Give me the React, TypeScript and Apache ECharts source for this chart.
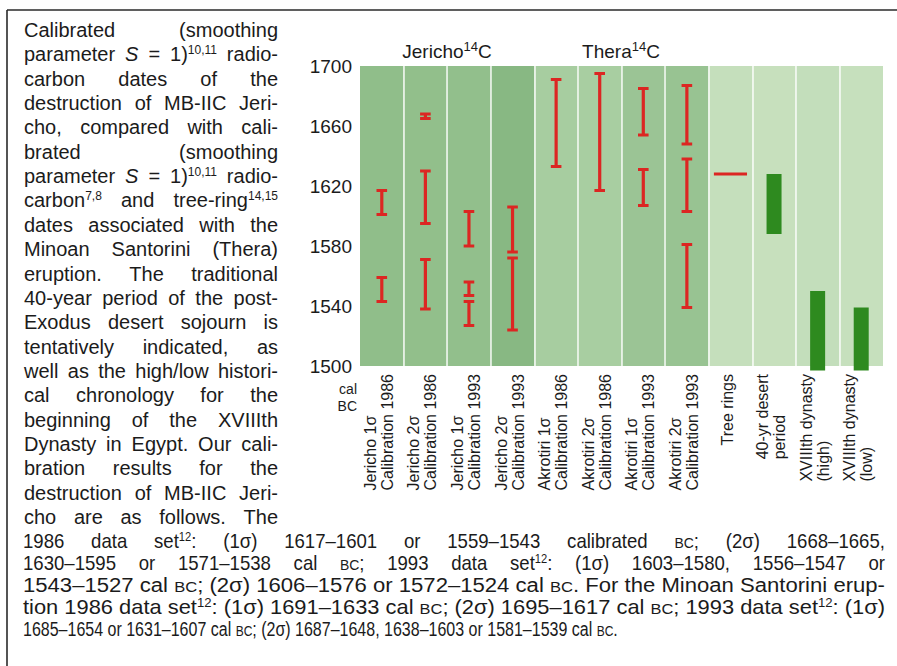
import React, { useEffect, useRef } from "react";
import * as echarts from "echarts";

// ---------- axis settings ----------
const YEAR_MIN = 1500;
const YEAR_MAX = 1700;
const YEAR_STEP = 40;

// ---------- categories (two label lines each) ----------
const categories = [
  ["Jericho 1σ", "Calibration 1986"],
  ["Jericho 2σ", "Calibration 1986"],
  ["Jericho 1σ", "Calibration 1993"],
  ["Jericho 2σ", "Calibration 1993"],
  ["Akrotiri 1σ", "Calibration 1986"],
  ["Akrotiri 2σ", "Calibration 1986"],
  ["Akrotiri 1σ", "Calibration 1993"],
  ["Akrotiri 2σ", "Calibration 1993"],
  ["Tree rings"],
  ["40-yr desert", "period"],
  ["XVIIIth dynasty", "(high)"],
  ["XVIIIth dynasty", "(low)"],
];

// ---------- calibrated ranges (cal BC, older → younger) ----------
const jericho1s1986 = [[1617, 1601], [1559, 1543]];
const jericho2s1986 = [[1668, 1665], [1630, 1595], [1571, 1538]];
const jericho1s1993 = [[1603, 1580], [1556, 1547], [1543, 1527]];
const jericho2s1993 = [[1606, 1576], [1572, 1524]];
const akrotiri1s1986 = [[1691, 1633]];
const akrotiri2s1986 = [[1695, 1617]];
const akrotiri1s1993 = [[1685, 1654], [1631, 1607]];
const akrotiri2s1993 = [[1687, 1648], [1638, 1603], [1581, 1539]];
const calibrationColumns = [
  jericho1s1986, jericho2s1986, jericho1s1993, jericho2s1993,
  akrotiri1s1986, akrotiri2s1986, akrotiri1s1993, akrotiri2s1993,
];

const treeRingYear = 1628;
const desertPeriod = [1628, 1588];
const dynastyHigh = [1550, 1497];
const dynastyLow = [1539, 1497];

// ---------- group headings ----------
const groupHeadings = [
  { name: "Jericho", sup: "14", tail: "C" },
  { name: "Thera", sup: "14", tail: "C" },
];
const yUnitLines = ["cal", "BC"];

// ---------- caption ----------
const captionColumnLines = [
  "Calibrated (smoothing",
  "parameter _[S] = 1)^[10,11] radio-",
  "carbon dates of the",
  "destruction of MB-IIC Jeri-",
  "cho, compared with cali-",
  "brated (smoothing",
  "parameter _[S] = 1)^[10,11] radio-",
  "carbon^[7,8] and tree-ring^[14,15]",
  "dates associated with the",
  "Minoan Santorini (Thera)",
  "eruption. The traditional",
  "40-year period of the post-",
  "Exodus desert sojourn is",
  "tentatively indicated, as",
  "well as the high/low histori-",
  "cal chronology for the",
  "beginning of the XVIIIth",
  "Dynasty in Egypt. Our cali-",
  "bration results for the",
  "destruction of MB-IIC Jeri-",
  "cho are as follows. The",
];
const captionWideLines = [
  "1986 data set^[12]: (1σ) 1617–1601 or 1559–1543 calibrated ~[BC]; (2σ) 1668–1665,",
  "1630–1595 or 1571–1538 cal ~[BC]; 1993 data set^[12]: (1σ) 1603–1580, 1556–1547 or",
  "1543–1527 cal ~[BC]; (2σ) 1606–1576 or 1572–1524 cal ~[BC]. For the Minoan Santorini erup-",
  "tion 1986 data set^[12]: (1σ) 1691–1633 cal ~[BC]; (2σ) 1695–1617 cal ~[BC]; 1993 data set^[12]: (1σ)",
  "1685–1654 or 1631–1607 cal ~[BC]; (2σ) 1687–1648, 1638–1603 or 1581–1539 cal ~[BC].",
];

const columnColors = [
  "#90be8a", "#92bf8b", "#92bf8c", "#88b883",
  "#a7cda0", "#a8cea1", "#9bc495", "#98c392",
  "#c5dfbc", "#c7e0bd", "#c3debb", "#c6e0bd",
];

const FONT = "Liberation Sans";
const INK = "#1b1b1b";
const RED = "#dc2622";
const DARK_GREEN = "#2e8a1f";

type Seg = { t: string; k: string };

function parseWord(w: string): Seg[] {
  const re = /(\^\[[^\]]*\]|~\[[^\]]*\]|_\[[^\]]*\])/g;
  const parts = w.split(re).filter((p) => p !== "");
  return parts.map((p) => {
    if (p.startsWith("^[")) return { t: p.slice(2, -1), k: "sup" };
    if (p.startsWith("~[")) return { t: p.slice(2, -1), k: "sc" };
    if (p.startsWith("_[")) return { t: p.slice(2, -1), k: "i" };
    return { t: p, k: "n" };
  });
}

function richFor(size: number) {
  const supSize = Math.round(size * 0.62);
  const scSize = Math.round(size * 0.76);
  return {
    n: { fontSize: size, fontFamily: FONT, fill: INK, lineHeight: size + 2 },
    i: { fontSize: size, fontFamily: FONT, fontStyle: "italic", fill: INK, lineHeight: size + 2 },
    sup: { fontSize: supSize, fontFamily: FONT, fill: INK, height: 14, lineHeight: 14, verticalAlign: "top" },
    sc: { fontSize: scSize, fontFamily: FONT, fill: INK, height: 18, lineHeight: 18, verticalAlign: "bottom" },
  };
}

function makeMeasurer(size: number) {
  const ctx = document.createElement("canvas").getContext("2d")!;
  const supSize = Math.round(size * 0.62);
  const scSize = Math.round(size * 0.76);
  const fontOf = (k: string) => {
    if (k === "sup") return `${supSize}px "${FONT}"`;
    if (k === "sc") return `${scSize}px "${FONT}"`;
    if (k === "i") return `italic ${size}px "${FONT}"`;
    return `${size}px "${FONT}"`;
  };
  return (seg: Seg) => {
    ctx.font = fontOf(seg.k);
    return ctx.measureText(seg.t).width;
  };
}

function escapeRich(t: string) {
  return t.replace(/[{}|]/g, "");
}

// mode: "justify" (stretch spaces at given glyph scale), "fit" (normal spaces, scale glyphs to fill), "left"
type LineMode = { mode: string; scale: number };

function layoutParagraph(
  lines: string[],
  modes: LineMode[],
  opts: { x0: number; x1: number; y0: number; dy: number; size: number }
) {
  const measure = makeMeasurer(opts.size);
  const spaceW = measure({ t: " ", k: "n" });
  const rich = richFor(opts.size);
  const els: any[] = [];
  lines.forEach((line, li) => {
    const words = line.split(" ").map(parseWord);
    const widths = words.map((segs) => segs.reduce((a, s) => a + measure(s), 0));
    const total = widths.reduce((a, b) => a + b, 0);
    const n = words.length;
    const avail = opts.x1 - opts.x0;
    const m = modes[li];
    let s = m.scale;
    let gap = spaceW * s;
    if (m.mode === "fit" && n > 1) {
      s = avail / (total + spaceW * (n - 1));
      gap = spaceW * s;
    } else if (m.mode === "justify" && n > 1) {
      const natural = (total + spaceW * (n - 1)) * s;
      if (natural > avail) {
        s = avail / (total + spaceW * (n - 1));
        gap = spaceW * s;
      } else {
        gap = (avail - total * s) / (n - 1);
      }
    }
    let x = opts.x0;
    const y = opts.y0 + li * opts.dy;
    words.forEach((segs, wi) => {
      els.push({
        type: "text",
        silent: true,
        x,
        y,
        scaleX: s,
        style: {
          text: segs.map((sg) => `{${sg.k}|${escapeRich(sg.t)}}`).join(""),
          rich,
          fontSize: opts.size,
          fontFamily: FONT,
          fill: INK,
          align: "left",
          verticalAlign: "middle",
        },
      });
      x += widths[wi] * s + gap;
    });
  });
  return els;
}

function buildOption() {
  const base = YEAR_MIN;
  const errorData: number[][] = [];
  calibrationColumns.forEach((ranges, ci) => {
    ranges.forEach(([hi, lo]) => errorData.push([ci, hi - base, lo - base]));
  });
  const barData = [
    [9, desertPeriod[0] - base, desertPeriod[1] - base],
    [10, dynastyHigh[0] - base, dynastyHigh[1] - base],
    [11, dynastyLow[0] - base, dynastyLow[1] - base],
  ];
  const treeData = [[8, treeRingYear - base]];

  const headingRich = {
    n: { fontSize: 19, fontFamily: FONT, fill: INK, lineHeight: 22 },
    s: { fontSize: 13, fontFamily: FONT, fill: INK, height: 12, lineHeight: 12, verticalAlign: "top" },
  };
  const headingX = [447, 621];

  const columnModes: LineMode[] = captionColumnLines.map(() => ({ mode: "justify", scale: 1 }));
  const wideModes: LineMode[] = [
    { mode: "justify", scale: 0.93 },
    { mode: "justify", scale: 0.93 },
    { mode: "fit", scale: 1 },
    { mode: "fit", scale: 1 },
    { mode: "left", scale: 0.8 },
  ];

  const graphics: any[] = [
    // frame
    { type: "line", silent: true, shape: { x1: 7, y1: 10, x2: 897, y2: 10 }, style: { stroke: "#2a2a2a", lineWidth: 1.6 } },
    { type: "line", silent: true, shape: { x1: 7, y1: 10, x2: 7, y2: 666 }, style: { stroke: "#2a2a2a", lineWidth: 1.6 } },
    ...groupHeadings.map((h, i) => ({
      type: "text",
      silent: true,
      x: headingX[i],
      y: 51,
      style: {
        text: `{n|${h.name}}{s|${h.sup}}{n|${h.tail}}`,
        rich: headingRich,
        fontSize: 19,
        fontFamily: FONT,
        align: "center",
        verticalAlign: "middle",
      },
    })),
    ...yUnitLines.map((t, i) => ({
      type: "text",
      silent: true,
      x: 357,
      y: 389 + i * 16.5,
      style: {
        text: t,
        fontSize: 14,
        fontFamily: FONT,
        fill: INK,
        align: "right",
        verticalAlign: "middle",
      },
    })),
    ...layoutParagraph(captionColumnLines, columnModes, {
      x0: 24, x1: 278, y0: 30, dy: 24.35, size: 20,
    }),
    ...layoutParagraph(captionWideLines, wideModes, {
      x0: 23, x1: 885, y0: 541, dy: 22, size: 20,
    }),
  ];

  return {
    animation: false,
    backgroundColor: "#ffffff",
    grid: { left: 360, top: 66, width: 523, height: 300, containLabel: false },
    xAxis: {
      type: "category",
      data: categories.map((c) => c.join("\n")),
      boundaryGap: true,
      axisLine: { show: false },
      axisTick: { show: false },
      axisLabel: {
        interval: 0,
        rotate: 90,
        margin: 8,
        fontSize: 16,
        lineHeight: 17,
        fontFamily: FONT,
        color: INK,
        padding: [0, 0, 6, 0],
        formatter: (v: string) =>
          v
            .split("\n")
            .map((ln) => `{a|${ln}}`)
            .join("\n"),
        rich: {
          a: { align: "left", fontSize: 16, lineHeight: 17, fontFamily: FONT, color: INK },
        },
      },
      splitLine: {
        show: true,
        interval: 0,
        showMinLine: false,
        showMaxLine: false,
        lineStyle: { color: "#ffffff", width: 1.5, opacity: 0.9 },
      },
      splitArea: { show: true, interval: 0, areaStyle: { color: columnColors, opacity: 1 } },
    },
    yAxis: {
      type: "value",
      min: 0,
      max: YEAR_MAX - YEAR_MIN,
      interval: YEAR_STEP,
      axisLine: { show: false },
      axisTick: { show: false },
      axisLabel: {
        margin: 8,
        fontSize: 19,
        fontFamily: FONT,
        color: INK,
        formatter: (v: number) => String(v + YEAR_MIN),
      },
      splitLine: {
        show: true,
        showMinLine: false,
        showMaxLine: false,
        lineStyle: { color: "#ffffff", width: 1.5, opacity: 0.9 },
      },
    },
    series: [
      {
        type: "custom",
        name: "calibrated ranges",
        data: errorData,
        encode: { x: 0, y: [1, 2] },
        z: 5,
        renderItem: (params: any, api: any) => {
          const top = api.coord([api.value(0), api.value(1)]);
          const bot = api.coord([api.value(0), api.value(2)]);
          const cap = 5.3;
          return {
            type: "group",
            children: [
              { type: "line", shape: { x1: top[0], y1: top[1], x2: bot[0], y2: bot[1] }, style: { stroke: RED, lineWidth: 3.2 } },
              { type: "line", shape: { x1: top[0] - cap, y1: top[1], x2: top[0] + cap, y2: top[1] }, style: { stroke: RED, lineWidth: 3 } },
              { type: "line", shape: { x1: bot[0] - cap, y1: bot[1], x2: bot[0] + cap, y2: bot[1] }, style: { stroke: RED, lineWidth: 3 } },
            ],
          };
        },
      },
      {
        type: "custom",
        name: "tree rings",
        data: treeData,
        encode: { x: 0, y: 1 },
        z: 5,
        renderItem: (params: any, api: any) => {
          const p = api.coord([api.value(0), api.value(1)]);
          const bw = api.size([1, 0])[0];
          const half = bw * 0.38;
          return {
            type: "line",
            shape: { x1: p[0] - half, y1: p[1], x2: p[0] + half, y2: p[1] },
            style: { stroke: RED, lineWidth: 2.8 },
          };
        },
      },
      {
        type: "custom",
        name: "periods",
        data: barData,
        encode: { x: 0, y: [1, 2] },
        z: 5,
        clip: false,
        renderItem: (params: any, api: any) => {
          const top = api.coord([api.value(0), api.value(1)]);
          const bot = api.coord([api.value(0), api.value(2)]);
          const w = 15;
          return {
            type: "rect",
            shape: { x: top[0] - w / 2, y: top[1], width: w, height: bot[1] - top[1] },
            style: { fill: DARK_GREEN },
          };
        },
      },
    ],
    graphic: graphics,
  };
}

export default function App() {
  const ref = useRef<HTMLDivElement>(null);
  useEffect(() => {
    const chart = echarts.init(ref.current!, null, { renderer: "svg" });
    chart.setOption(buildOption() as any);
    return () => chart.dispose();
  }, []);
  return (
    <div
      ref={ref}
      style={{ position: "fixed", left: 0, top: 0, width: 897, height: 666, background: "#ffffff" }}
    />
  );
}
